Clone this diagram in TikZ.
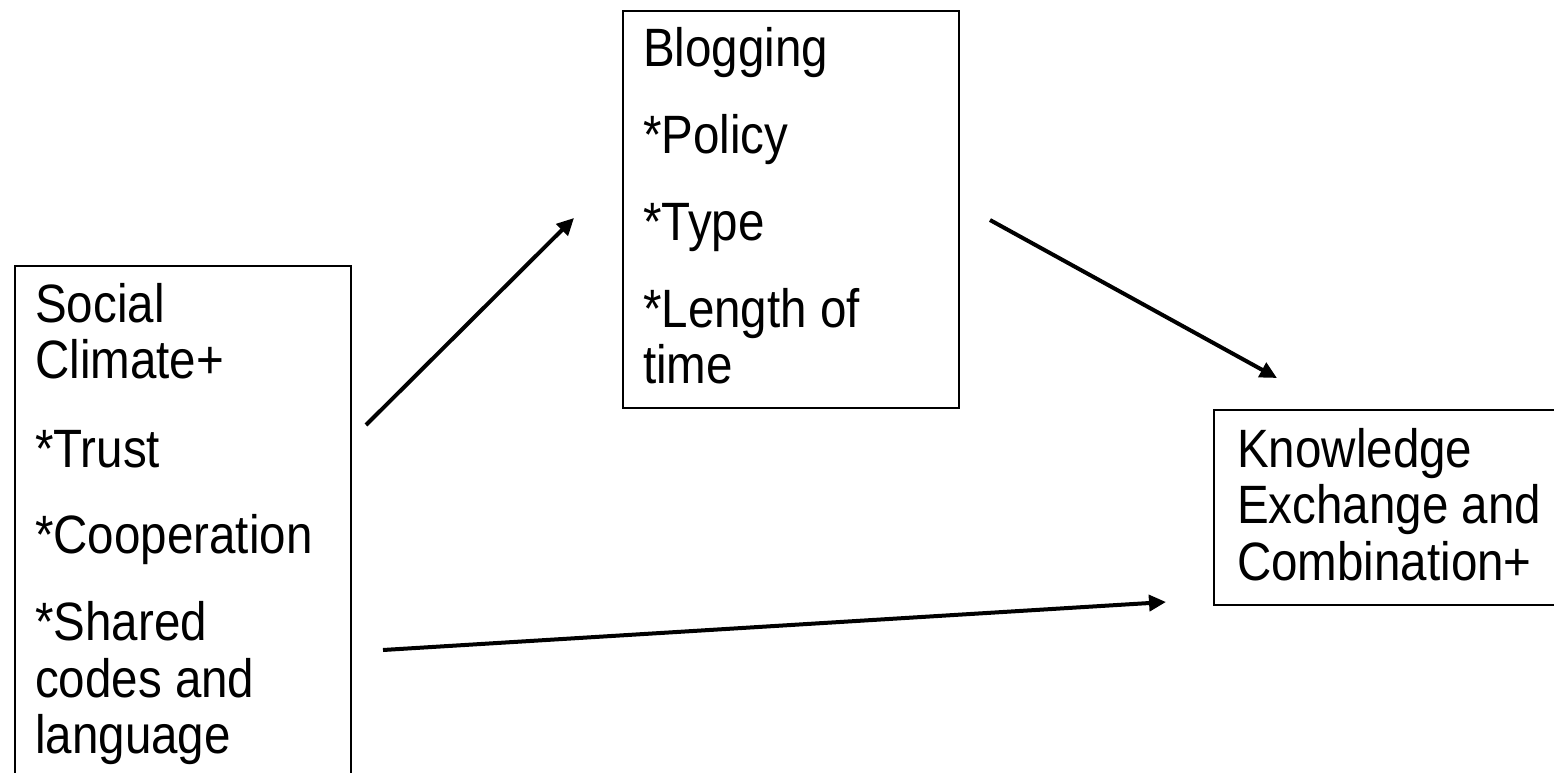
\documentclass[tikz,border=0pt]{standalone}
\usepackage{fontspec}
\setmainfont{Liberation Sans}[FakeStretch=0.88]
\usetikzlibrary{arrows.meta}
\begin{document}
\begin{tikzpicture}[x=1bp,y=-1bp,
  box/.style={draw=black,line width=2bp,fill=none,inner sep=0,anchor=north west},
  txt/.style={anchor=base west,inner sep=0,font=\fontsize{54bp}{57bp}\selectfont},
  conn/.style={line width=4bp,-{Triangle[length=17bp,width=16bp]}}]
\useasboundingbox (0,0) rectangle (1554,773);
\clip (0,0) rectangle (1554,773);
% boxes
\node[box,minimum width=336bp,minimum height=540bp] (social) at (14,265) {};
\node[box,minimum width=336bp,minimum height=397bp] (blog) at (622,10) {};
\node[box,minimum width=370bp,minimum height=195bp] (know) at (1213,409) {};
% social texts
\node[txt] (s1) at (35,322) {Social};
\node[txt] (s2) at (35,378) {Climate+};
\node[txt] (s3) at (35,467) {*Trust};
\node[txt] (s4) at (35,553) {*Cooperation};
\node[txt] (s5) at (35,640) {*Shared};
\node[txt] (s6) at (35,697) {codes and};
\node[txt] (s7) at (35,753) {language};
% blogging texts
\node[txt] (b1) at (643,67) {Blogging};
\node[txt] (b2) at (643,153) {*Policy};
\node[txt] (b3) at (643,240) {*Type};
\node[txt] (b4) at (643,327) {*Length of};
\node[txt] (b5) at (643,383) {time};
% knowledge texts
\node[txt] (k1) at (1237,467) {Knowledge};
\node[txt] (k2) at (1237,523) {Exchange and};
\node[txt] (k3) at (1237,580) {Combination+};
% connector ends
\coordinate (a1s) at (366,425);
\coordinate (a1e) at (574,218);
\coordinate (a2s) at (990,220);
\coordinate (a2e) at (1277,378);
\coordinate (a3s) at (383,650);
\coordinate (a3e) at (1166,602);
\draw[conn] (a1s) -- (a1e);
\draw[conn] (a2s) -- (a2e);
\draw[conn] (a3s) -- (a3e);
\end{tikzpicture}
\end{document}
